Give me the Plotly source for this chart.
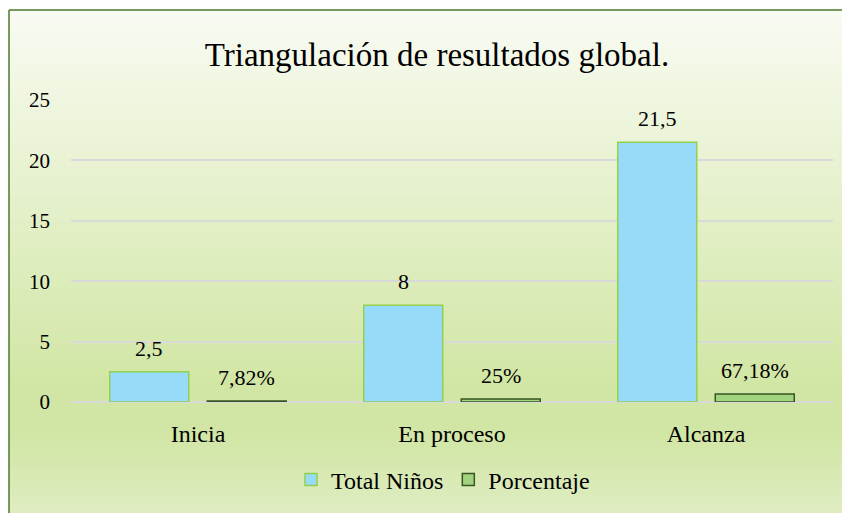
import plotly.graph_objects as go

categories = ["Inicia", "En proceso", "Alcanza"]
total_ninos = [2.5, 8, 21.5]
porcentaje = [0.0782, 0.25, 0.6718]
series_names = ["Total Niños", "Porcentaje"]
title_text = "Triangulación de resultados global."


def fmt_num(v):
    s = f"{v:.2f}".rstrip("0").rstrip(".")
    return s.replace(".", ",")


total_text = [fmt_num(v) for v in total_ninos]
pct_text = [fmt_num(v * 100) + "%" for v in porcentaje]

OFF = 8  # page body margin offset
W, H = 850, 513
# target plot area in page pixels: x 71..833, y 100..402
L = 71 - OFF
R = W - (833 - OFF)
T = 100 - OFF
B = H - (402 - OFF)
pw, ph = W - L - R, H - T - B


def px_x(x):  # page pixel -> paper
    return (x - OFF - L) / pw


def px_y(y):
    return (H - B - (y - OFF)) / ph


FONT = "Liberation Serif, Times New Roman, serif"
BARGAP, GROUPGAP = 0.232, 0.19
slot_px = pw / len(categories) * (1 - BARGAP) / 2

fig = go.Figure()
fig.add_trace(go.Bar(
    x=categories, y=total_ninos, name=series_names[0],
    marker=dict(color="#97dbf9", line=dict(color="#92d050", width=1.5)),
))
fig.add_trace(go.Bar(
    x=categories, y=porcentaje, name=series_names[1],
    marker=dict(color="#a2d37e", line=dict(color="#375623", width=1.5)),
))

annotations = []
for cat, v, t in zip(categories, total_ninos, total_text):
    annotations.append(dict(x=cat, y=v, xref="x", yref="y", text=t, showarrow=False,
                            xanchor="center", yanchor="bottom", xshift=-slot_px / 2,
                            yshift=9, font=dict(family=FONT, size=22, color="#000000")))
for cat, v, t in zip(categories, porcentaje, pct_text):
    annotations.append(dict(x=cat, y=v, xref="x", yref="y", text=t, showarrow=False,
                            xanchor="center", yanchor="bottom", xshift=slot_px / 2,
                            yshift=9, font=dict(family=FONT, size=22, color="#000000")))

# background gradient (Excel-like light gradient)
stops = [(10, (249, 251, 243)), (387, (209, 230, 164)), (433, (209, 230, 164)), (520, (224, 237, 196))]


def col_at(y):
    for (y0, c0), (y1, c1) in zip(stops[:-1], stops[1:]):
        if y0 <= y <= y1:
            t = (y - y0) / (y1 - y0)
            return tuple(round(a + (b - a) * t) for a, b in zip(c0, c1))
    return stops[-1][1]


shapes = []
step = 4
y = 10
while y < H + 12:
    c = col_at(y + step / 2)
    shapes.append(dict(
        type="rect", xref="paper", yref="paper", layer="below",
        x0=px_x(9), x1=px_x(W + 12), y0=px_y(y + step + 0.5), y1=px_y(y),
        fillcolor=f"rgb{c}", line=dict(width=0),
    ))
    y += step
# border
shapes.append(dict(type="line", xref="paper", yref="paper", layer="above",
                   x0=px_x(9), x1=px_x(9), y0=px_y(10), y1=px_y(H + 12),
                   line=dict(color="#4a7a2c", width=1.5)))
shapes.append(dict(type="line", xref="paper", yref="paper", layer="above",
                   x0=px_x(9), x1=px_x(W + 12), y0=px_y(10), y1=px_y(10),
                   line=dict(color="#4a7a2c", width=1.5)))

fig.update_layout(
    width=W, height=H,
    margin=dict(l=L, r=R, t=T, b=B),
    paper_bgcolor="#ffffff", plot_bgcolor="rgba(0,0,0,0)",
    separators=",.",
    barmode="group", bargap=BARGAP, bargroupgap=GROUPGAP,
    shapes=shapes, annotations=annotations,
    title=dict(text=title_text, x=(437 - OFF) / W, xanchor="center", xref="container",
               y=1 - (54 - OFF) / H, yanchor="middle", yref="container",
               font=dict(family=FONT, size=33, color="#000000")),
    font=dict(family=FONT, size=21, color="#000000"),
    legend=dict(orientation="h", x=px_x(443), xanchor="center",
                y=px_y(480), yanchor="middle",
                font=dict(family=FONT, size=24, color="#000000"),
                bgcolor="rgba(0,0,0,0)", itemwidth=30),
    showlegend=True,
)
fig.update_xaxes(showgrid=False, showline=False, ticks="",
                 tickfont=dict(family=FONT, size=24, color="#000000"),
                 ticklabelstandoff=15)
fig.update_yaxes(range=[0, 25], dtick=5, showgrid=True, gridcolor="#d9d9d9",
                 gridwidth=1.5, zeroline=True, zerolinecolor="#d9d9d9",
                 zerolinewidth=1.5, showline=False, ticks="",
                 tickfont=dict(family=FONT, size=21, color="#000000"),
                 ticklabelstandoff=20)

fig.write_html("out.html")
